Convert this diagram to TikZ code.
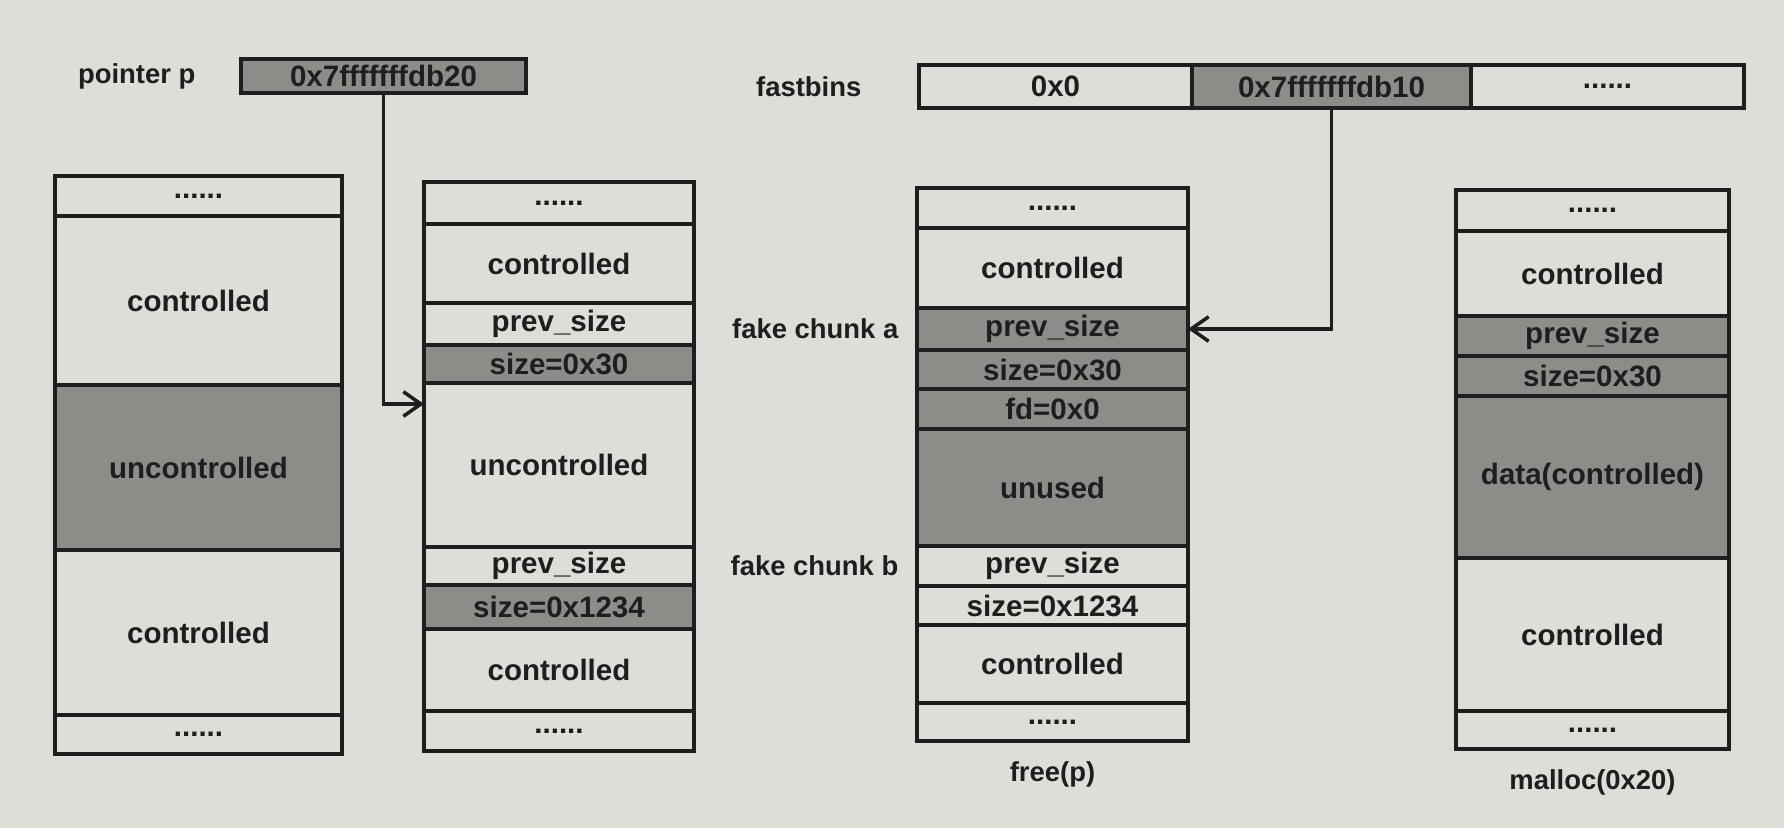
\documentclass[tikz,border=0pt]{standalone}
\usepackage{fontspec}
\setmainfont{Liberation Sans}
\usetikzlibrary{arrows.meta,positioning}
\definecolor{paper}{RGB}{222,222,217}
\definecolor{tone}{RGB}{140,140,137}
\definecolor{ink}{RGB}{30,30,30}
\tikzset{
  mem cell/.style={draw=ink,line width=1pt,inner sep=0pt,outer sep=0pt,
    text=ink,minimum width=#1,font=\fontsize{8.4}{10}\selectfont\bfseries},
  shaded/.style={fill=tone},
  tag/.style={text=ink,inner sep=0pt,font=\fontsize{7.8}{10}\selectfont\bfseries},
  link/.style={draw=ink,line width=1pt,-{Straight Barb[length=5pt,width=7pt]}}
}

\begin{document}
\begin{tikzpicture}[line join=miter]
  \fill[paper] (0,0) rectangle (17.84,-8.28);
  \useasboundingbox (0,0) rectangle (17.84,-8.28);

  % pointer and fastbins
  \node[mem cell=2.85cm,shaded,minimum height=0.34cm] (ptr) at (3.835,-0.76) {0x7fffffffdb20};
  \node[tag,left=0.45cm of ptr] (ptrname) {pointer p};
  \node[mem cell=2.73cm,minimum height=0.43cm] (fb1) at (10.555,-0.865) {0x0};
  \node[mem cell=2.79cm,shaded,minimum height=0.43cm,right=0pt of fb1] (fb2) {0x7fffffffdb10};
  \node[mem cell=2.73cm,minimum height=0.43cm,right=0pt of fb2] (fb3) {......};
  \node[tag,left=0.57cm of fb1] (fbname) {fastbins};

  % heap before
  \node[mem cell=2.87cm,minimum height=0.40cm,anchor=north] (a1) at (1.985,-1.76) {......};
  \node[mem cell=2.87cm,minimum height=1.69cm,below=0pt of a1] (a2) {controlled};
  \node[mem cell=2.87cm,shaded,minimum height=1.65cm,below=0pt of a2] (a3) {uncontrolled};
  \node[mem cell=2.87cm,minimum height=1.65cm,below=0pt of a3] (a4) {controlled};
  \node[mem cell=2.87cm,minimum height=0.39cm,below=0pt of a4] (a5) {......};

  % fake chunks written
  \node[mem cell=2.70cm,minimum height=0.42cm,anchor=north] (b1) at (5.59,-1.82) {......};
  \node[mem cell=2.70cm,minimum height=0.79cm,below=0pt of b1] (b2) {controlled};
  \node[mem cell=2.70cm,minimum height=0.42cm,below=0pt of b2] (b3) {prev\_size};
  \node[mem cell=2.70cm,shaded,minimum height=0.38cm,below=0pt of b3] (b4) {size=0x30};
  \node[mem cell=2.70cm,minimum height=1.64cm,below=0pt of b4] (b5) {uncontrolled};
  \node[mem cell=2.70cm,minimum height=0.38cm,below=0pt of b5] (b6) {prev\_size};
  \node[mem cell=2.70cm,shaded,minimum height=0.44cm,below=0pt of b6] (b7) {size=0x1234};
  \node[mem cell=2.70cm,minimum height=0.82cm,below=0pt of b7] (b8) {controlled};
  \node[mem cell=2.70cm,minimum height=0.40cm,below=0pt of b8] (b9) {......};

  % after free(p)
  \node[mem cell=2.71cm,minimum height=0.40cm,anchor=north] (c1) at (10.525,-1.88) {......};
  \node[mem cell=2.71cm,minimum height=0.80cm,below=0pt of c1] (c2) {controlled};
  \node[mem cell=2.71cm,shaded,minimum height=0.42cm,below=0pt of c2] (c3) {prev\_size};
  \node[mem cell=2.71cm,shaded,minimum height=0.39cm,below=0pt of c3] (c4) {size=0x30};
  \node[mem cell=2.71cm,shaded,minimum height=0.40cm,below=0pt of c4] (c5) {fd=0x0};
  \node[mem cell=2.71cm,shaded,minimum height=1.17cm,below=0pt of c5] (c6) {unused};
  \node[mem cell=2.71cm,minimum height=0.40cm,below=0pt of c6] (c7) {prev\_size};
  \node[mem cell=2.71cm,minimum height=0.39cm,below=0pt of c7] (c8) {size=0x1234};
  \node[mem cell=2.71cm,minimum height=0.78cm,below=0pt of c8] (c9) {controlled};
  \node[mem cell=2.71cm,minimum height=0.38cm,below=0pt of c9] (c10) {......};
  \node[tag,left=0.18cm of c3] (fakea) {fake chunk a};
  \node[tag,left=0.18cm of c7] (fakeb) {fake chunk b};
  \node[tag,below=0.2cm of c10] (freecap) {free(p)};

  % after malloc(0x20)
  \node[mem cell=2.73cm,minimum height=0.41cm,anchor=north] (d1) at (15.925,-1.90) {......};
  \node[mem cell=2.73cm,minimum height=0.85cm,below=0pt of d1] (d2) {controlled};
  \node[mem cell=2.73cm,shaded,minimum height=0.40cm,below=0pt of d2] (d3) {prev\_size};
  \node[mem cell=2.73cm,shaded,minimum height=0.40cm,below=0pt of d3] (d4) {size=0x30};
  \node[mem cell=2.73cm,shaded,minimum height=1.62cm,below=0pt of d4] (d5) {data(controlled)};
  \node[mem cell=2.73cm,minimum height=1.53cm,below=0pt of d5] (d6) {controlled};
  \node[mem cell=2.73cm,minimum height=0.38cm,below=0pt of d6] (d7) {......};
  \node[tag,below=0.2cm of d7] (malloccap) {malloc(0x20)};

  \draw[link] (ptr.south) |- ([yshift=-0.21cm]b5.north west);
  \draw[link] (fb2.south) |- (c3.east);
\end{tikzpicture}
\end{document}
